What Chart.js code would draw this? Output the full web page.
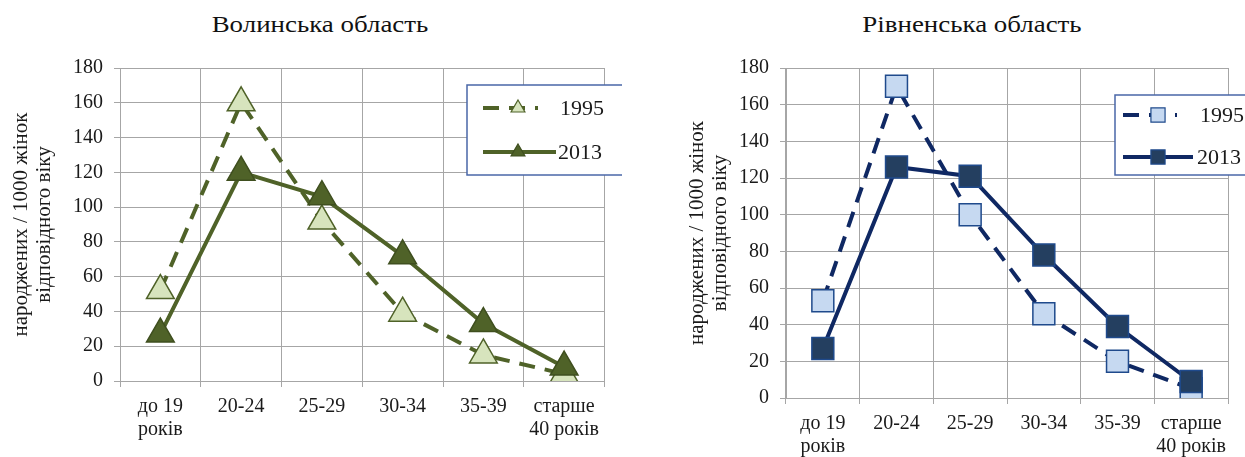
<!DOCTYPE html>
<html><head><meta charset="utf-8">
<script src="https://cdn.jsdelivr.net/npm/chart.js@4"></script>
<style>
html,body{margin:0;padding:0;background:#fff;}
#wrap{position:relative;width:1245px;height:457px;overflow:hidden;}
.box{position:absolute;top:0;height:457px;}
.title{position:absolute;top:12px;font-family:'Liberation Serif','Times New Roman',serif;font-size:23px;color:#111;white-space:nowrap;transform:translateX(-50%) scaleX(1.17);transform-origin:center center;}
</style></head><body>
<div id="wrap">
<div class="title" style="left:320px">Волинська область</div>
<div class="title" style="left:972px">Рівненська область</div>
<div class="box" style="left:0;width:622px"><canvas id="c1" width="622" height="457"></canvas></div>
<div class="box" style="left:622px;width:623px"><canvas id="c2" width="623" height="457"></canvas></div>
</div>
<script>
const categories = [["до 19","років"],"20-24","25-29","30-34","35-39",["старше","40 років"]];
const seriesNames = ["1995","2013"];
const axisTitle = ["народжених / 1000 жінок","відповідного віку"];
const yMin = 0, yMax = 180, yStep = 20;
const volyn1995 = [52,160,92,39,15,4];
const volyn2013 = [27,120,106,72,33,8];
const rivne1995 = [53,170,100,46,20,5];
const rivne2013 = [27,126,121,78,39,9];

const FONT = "'Liberation Serif', 'Times New Roman', serif";
const TXT = "#1a1a1a";
const GRID = "#a6a6a6";

function drawMarker(ctx, style, x, y, r, fill, stroke, bw){
  ctx.save();
  ctx.fillStyle = fill; ctx.strokeStyle = stroke; ctx.lineWidth = bw; ctx.setLineDash([]);
  ctx.beginPath();
  if (style === 'triangle'){
    ctx.moveTo(x, y - r);
    ctx.lineTo(x + 0.866*r, y + 0.5*r);
    ctx.lineTo(x - 0.866*r, y + 0.5*r);
    ctx.closePath();
  } else {
    const s = Math.SQRT1_2 * r;
    ctx.rect(x - s, y - s, 2*s, 2*s);
  }
  ctx.fill(); ctx.stroke();
  ctx.restore();
}

const boxLegend = {
  id: 'boxLegend',
  afterDraw(chart, args, o){
    const ctx = chart.ctx;
    ctx.save();
    ctx.fillStyle = '#fff';
    ctx.fillRect(o.x, o.y, o.w, o.h);
    ctx.strokeStyle = o.border; ctx.lineWidth = 1.5;
    ctx.strokeRect(o.x, o.y, o.w, o.h);
    seriesNames.forEach((name, k) => {
      const ds = chart.data.datasets.find(d => d.label === name);
      const row = o.rows[k];
      ctx.strokeStyle = ds.borderColor; ctx.lineWidth = ds.borderWidth;
      ctx.setLineDash(ds.borderDash || []);
      ctx.beginPath(); ctx.moveTo(row.x0, row.y); ctx.lineTo(row.x1, row.y); ctx.stroke();
      ctx.setLineDash([]);
      drawMarker(ctx, ds.pointStyle, o.markerX, row.y, o.markerR, ds.pointBackgroundColor, ds.pointBorderColor, 1.2);
      ctx.fillStyle = TXT; ctx.font = "22px " + FONT;
      ctx.textBaseline = 'middle'; ctx.textAlign = 'left';
      ctx.fillText(name, row.tx, row.y + 1);
    });
    ctx.restore();
  }
};

function makeChart(id, c){
  return new Chart(document.getElementById(id), {
    type: 'line',
    data: {
      labels: categories,
      datasets: [
        { label: seriesNames[0], data: c.d1, order: 1, borderColor: c.line, borderWidth: 4, borderDash: [16, 10],
          pointStyle: c.ps, pointRadius: c.r, pointHoverRadius: c.r, pointBackgroundColor: c.fill1, pointBorderColor: c.bord1,
          pointBorderWidth: 1.5, tension: 0, fill: false },
        { label: seriesNames[1], data: c.d2, order: 0, borderColor: c.line, borderWidth: 4,
          pointStyle: c.ps, pointRadius: c.r, pointHoverRadius: c.r, pointBackgroundColor: c.fill2, pointBorderColor: c.bord2,
          pointBorderWidth: 1.5, tension: 0, fill: false }
      ]
    },
    options: {
      responsive: false, animation: false, devicePixelRatio: 1,
      layout: { padding: { top: 68, right: c.padR, left: 0, bottom: 0 } },
      plugins: { legend: { display: false }, title: { display: false }, tooltip: { enabled: false }, boxLegend: c.legend },
      scales: {
        x: {
          offset: true,
          grid: { offset: true, color: GRID, lineWidth: 1, tickLength: 6 },
          border: { color: GRID, width: 1 },
          ticks: { font: { family: FONT, size: 20, lineHeight: 1.15 }, color: TXT, padding: 8, maxRotation: 0, autoSkip: false },
          afterFit(s){ s.height = c.xH; }
        },
        y: {
          min: yMin, max: yMax,
          ticks: { stepSize: yStep, font: { family: FONT, size: 20 }, color: TXT, padding: 11 },
          grid: { color: GRID, lineWidth: 1, tickLength: 6 },
          border: { color: GRID, width: 1 },
          title: { display: true, text: axisTitle, color: TXT, font: { family: FONT, size: 21, lineHeight: 1.1 }, padding: { top: c.tPad, bottom: 0 } },
          afterFit(s){ s.width = c.yW; }
        }
      }
    },
    plugins: [boxLegend]
  });
}

makeChart('c1', {
  d1: volyn1995, d2: volyn2013, line: '#4f6228', ps: 'triangle', r: 16,
  fill1: '#d7e4bd', bord1: '#4f6228', fill2: '#4f6228', bord2: '#3f4f1f',
  padR: 4, xH: 76, yW: 120, tPad: 10,
  legend: { x: 467, y: 85, w: 200, h: 90, border: '#4a67a8', markerX: 518, markerR: 8,
    rows: [ { y: 108, x0: 483, x1: 538, tx: 560 }, { y: 152, x0: 483, x1: 556, tx: 558 } ] }
});
makeChart('c2', {
  d1: rivne1995, d2: rivne2013, line: '#0f2863', ps: 'rect', r: 15.5,
  fill1: '#c6d9f1', bord1: '#1f4a8c', fill2: '#243f60', bord2: '#1f4a8c',
  padR: 5, xH: 59, yW: 164, tPad: 64,
  legend: { x: 493, y: 95, w: 200, h: 80, border: '#4a67a8', markerX: 536, markerR: 10,
    rows: [ { y: 115, x0: 501, x1: 555, tx: 578 }, { y: 157, x0: 501, x1: 571, tx: 575 } ] }
});
</script>
</body></html>
